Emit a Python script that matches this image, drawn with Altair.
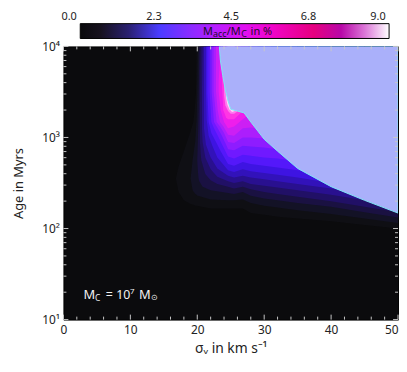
import altair as alt
import pandas as pd

# ---------------- axis / tick data ----------------
SIGMA_DOMAIN = [0, 50]
AGE_DOMAIN = [10, 10000]
X_MAJOR = [0, 10, 20, 30, 40, 50]
X_MINOR = [2, 4, 6, 8, 12, 14, 16, 18, 22, 24, 26, 28, 32, 34, 36, 38, 42, 44, 46, 48]
Y_MAJOR = [10, 100, 1000, 10000]
Y_MAJOR_LABELS = ["10¹", "10²", "10³", "10⁴"]
Y_MINOR = [20, 30, 40, 50, 60, 70, 80, 90,
           200, 300, 400, 500, 600, 700, 800, 900,
           2000, 3000, 4000, 5000, 6000, 7000, 8000, 9000]

# ---------------- colour bar ----------------
CBAR_RANGE = [0, 9]
CBAR_AXIS_DOMAIN = [-0.49, 9.26]
CBAR_TICKS = [0, 2.25, 4.5, 6.75, 9]
CBAR_STOPS = [0, 0.6, 1.4, 2.3, 3.2, 4.0, 4.8, 5.6, 6.8, 7.6, 8.3, 9.0]
CBAR_COLORS = ["#0a0a0c", "#17121f", "#2a2070", "#4a3cff", "#8a2cff", "#bb1cff",
               "#e010f0", "#f004c8", "#e60080", "#b808a8", "#dc78d8", "#ffffff"]

# ---------------- filled contour levels (Macc/Mc in %) ----------------
LEVELS = [0.1, 0.35, 0.7, 1.1, 1.6, 2.1, 2.6, 3.1, 3.6, 4.1, 4.6, 5.1, 5.7, 6.4, 7.2, 8.2]
LEVEL_COLORS = ["#0f0f14", "#131226", "#1a1142", "#211066", "#29108f", "#3212ba",
                "#3e14e2", "#5418fa", "#7019ff", "#8e1cff", "#ac1efc", "#cc1ff4",
                "#ee1eec", "#ff36e4", "#ff7aee", "#ffd4fb"]

# each contour: sigma (km/s), lower and upper log10(age/Myr) of the region >= level
c00_sigma = [16.8, 17.2, 18.0, 19.0, 19.4, 19.6, 19.8, 19.9, 22.0, 24.6, 25.5, 26.8, 28.0, 30.0, 32.0, 35.0, 40.0, 45.0, 50.0]
c00_lo = [2.55, 2.40, 2.31, 2.27, 2.26, 2.255, 2.25, 2.25, 2.22, 2.22, 2.22, 2.22, 2.17, 2.15, 2.13, 2.11, 2.08, 2.04, 2.00]
c00_hi = [2.55, 2.68, 2.85, 3.07, 3.17, 3.30, 3.50, 4.0, 4.0, 4.0, 4.0, 4.0, 4.0, 4.0, 4.0, 4.0, 4.0, 4.0, 4.0]

c01_sigma = [19.0, 19.3, 19.7, 19.9, 20.0, 20.1, 22.0, 24.6, 25.5, 26.8, 28.0, 30.0, 32.0, 35.0, 40.0, 45.0, 50.0]
c01_lo = [2.55, 2.42, 2.38, 2.37, 2.36, 2.36, 2.32, 2.31, 2.31, 2.32, 2.28, 2.25, 2.23, 2.20, 2.16, 2.11, 2.06]
c01_hi = [2.55, 2.75, 2.96, 3.20, 3.50, 4.0, 4.0, 4.0, 4.0, 4.0, 4.0, 4.0, 4.0, 4.0, 4.0, 4.0, 4.0]

c02_sigma = [20.0, 20.1, 20.2, 20.3, 20.8, 22.0, 24.6, 25.5, 26.8, 28.0, 30.0, 32.0, 35.0, 40.0, 45.0, 50.0]
c02_lo = [2.75, 2.62, 2.55, 2.52, 2.46, 2.42, 2.39, 2.38, 2.40, 2.36, 2.33, 2.31, 2.28, 2.24, 2.18, 2.12]
c02_hi = [2.75, 3.00, 3.30, 4.0, 4.0, 4.0, 4.0, 4.0, 4.0, 4.0, 4.0, 4.0, 4.0, 4.0, 4.0, 4.0]

c03_sigma = [20.4, 20.5, 20.6, 21.2, 22.0, 23.0, 24.6, 25.5, 26.8, 28.0, 30.0, 32.0, 35.0, 40.0, 45.0, 50.0]
c03_lo = [2.95, 2.83, 2.75, 2.60, 2.53, 2.49, 2.46, 2.44, 2.46, 2.43, 2.40, 2.38, 2.35, 2.30, 2.24, 2.18]
c03_hi = [3.30, 4.0, 4.0, 4.0, 4.0, 4.0, 4.0, 4.0, 4.0, 4.0, 4.0, 4.0, 4.0, 4.0, 4.0, 4.0]

c04_sigma = [20.7, 20.8, 21.2, 22.0, 23.0, 24.6, 25.5, 26.8, 28.0, 30.0, 32.0, 35.0, 40.0, 45.0, 50.0]
c04_lo = [3.10, 2.95, 2.78, 2.65, 2.57, 2.52, 2.50, 2.52, 2.49, 2.47, 2.45, 2.42, 2.37, 2.31, 2.25]
c04_hi = [3.50, 4.0, 4.0, 4.0, 4.0, 4.0, 4.0, 4.0, 4.0, 4.0, 4.0, 4.0, 4.0, 4.0, 4.0]

c05_sigma = [21.0, 21.3, 22.0, 23.0, 24.6, 25.5, 26.8, 28.0, 30.0, 32.0, 35.0, 40.0, 45.0]
c05_lo = [3.10, 2.92, 2.78, 2.66, 2.58, 2.56, 2.58, 2.56, 2.54, 2.52, 2.49, 2.44, 2.38]
c05_hi = [4.0, 4.0, 4.0, 4.0, 4.0, 4.0, 4.0, 4.0, 4.0, 4.0, 4.0, 4.0, 4.0]

c06_sigma = [21.3, 21.4, 21.7, 22.3, 23.0, 24.6, 25.5, 26.8, 28.0, 30.0, 32.0, 35.0, 40.0]
c06_lo = [3.50, 3.20, 3.02, 2.90, 2.78, 2.64, 2.62, 2.65, 2.63, 2.61, 2.59, 2.56, 2.50]
c06_hi = [4.0, 4.0, 4.0, 4.0, 4.0, 4.0, 4.0, 4.0, 4.0, 4.0, 4.0, 4.0, 4.0]

c07_sigma = [21.5, 21.7, 22.1, 22.8, 23.5, 24.6, 25.5, 26.8, 28.0, 30.0, 32.0, 35.0, 38.0]
c07_lo = [3.50, 3.17, 3.05, 2.95, 2.85, 2.71, 2.69, 2.73, 2.71, 2.69, 2.67, 2.64, 2.61]
c07_hi = [4.0, 4.0, 4.0, 4.0, 4.0, 4.0, 4.0, 4.0, 4.0, 4.0, 4.0, 4.0, 4.0]

c08_sigma = [21.85, 22.1, 22.5, 23.2, 24.0, 24.6, 25.5, 26.8, 28.0, 30.0, 32.0, 35.0]
c08_lo = [3.50, 3.17, 3.10, 3.00, 2.88, 2.79, 2.77, 2.81, 2.80, 2.78, 2.77, 2.74]
c08_hi = [4.0, 4.0, 4.0, 4.0, 4.0, 4.0, 4.0, 4.0, 4.0, 4.0, 4.0, 4.0]

c09_sigma = [22.15, 22.5, 22.9, 23.6, 24.2, 24.6, 25.5, 26.8, 28.0, 30.0, 32.0]
c09_lo = [3.50, 3.17, 3.12, 3.03, 2.94, 2.87, 2.86, 2.91, 2.90, 2.89, 2.87]
c09_hi = [4.0, 4.0, 4.0, 4.0, 4.0, 4.0, 4.0, 4.0, 4.0, 4.0, 4.0]

c10_sigma = [22.45, 22.9, 23.4, 24.0, 24.6, 25.5, 26.8, 28.0, 30.0, 31.0]
c10_lo = [3.50, 3.17, 3.12, 3.05, 2.95, 2.94, 3.00, 3.00, 2.99, 2.95]
c10_hi = [4.0, 4.0, 4.0, 4.0, 4.0, 4.0, 4.0, 4.0, 4.0, 4.0]

c11_sigma = [22.8, 23.05, 23.4, 23.9, 24.6, 25.5, 26.8, 28.0, 29.0]
c11_lo = [3.50, 3.30, 3.17, 3.12, 3.03, 3.02, 3.10, 3.11, 3.10]
c11_hi = [4.0, 4.0, 4.0, 4.0, 4.0, 4.0, 4.0, 4.0, 4.0]

c12_sigma = [23.2, 23.5, 24.0, 24.6, 25.5, 26.8, 27.6]
c12_lo = [3.50, 3.30, 3.17, 3.10, 3.12, 3.20, 3.24]
c12_hi = [3.62, 4.0, 4.0, 4.0, 4.0, 4.0, 4.0]

c13_sigma = [23.7, 23.9, 24.3, 24.6, 25.5, 26.5]
c13_lo = [3.55, 3.30, 3.22, 3.20, 3.20, 3.27]
c13_hi = [3.65, 4.0, 4.0, 4.0, 4.0, 4.0]

c14_sigma = [24.0, 24.2, 24.6, 25.0, 25.5, 26.0]
c14_lo = [3.47, 3.35, 3.29, 3.26, 3.26, 3.285]
c14_hi = [3.52, 4.0, 4.0, 4.0, 4.0, 4.0]

c15_sigma = [24.3, 24.5, 24.8, 25.2, 25.6]
c15_lo = [3.44, 3.36, 3.31, 3.28, 3.29]
c15_hi = [3.48, 4.0, 4.0, 4.0, 4.0]

# region without a value (light lavender), lower edge in log10(age)
lav_sigma = [23.3, 23.45, 23.8, 24.2, 24.6, 25.0, 26.0, 27.0, 28.0, 30.0, 32.0, 35.0, 40.0, 45.0, 50.0]
lav_lo = [4.0, 3.85, 3.68, 3.52, 3.40, 3.31, 3.29, 3.27, 3.17, 2.98, 2.85, 2.66, 2.46, 2.31, 2.17]
lav_hi = [4.0] * len(lav_sigma)

CONTOURS = [
    (c00_sigma, c00_lo, c00_hi), (c01_sigma, c01_lo, c01_hi), (c02_sigma, c02_lo, c02_hi),
    (c03_sigma, c03_lo, c03_hi), (c04_sigma, c04_lo, c04_hi), (c05_sigma, c05_lo, c05_hi),
    (c06_sigma, c06_lo, c06_hi), (c07_sigma, c07_lo, c07_hi), (c08_sigma, c08_lo, c08_hi),
    (c09_sigma, c09_lo, c09_hi), (c10_sigma, c10_lo, c10_hi), (c11_sigma, c11_lo, c11_hi),
    (c12_sigma, c12_lo, c12_hi), (c13_sigma, c13_lo, c13_hi), (c14_sigma, c14_lo, c14_hi),
    (c15_sigma, c15_lo, c15_hi),
]

# annotation anchors: (sigma, log10 age) in the main panel, (value, y) in the colour bar
ANNOT_POS = (3.0, 1.228)
CBAR_TITLE_POS = (3.58, 0.22)

# ---------------- styling ----------------
W, H = 338, 276
CB_H = 15
FONT = "Noto Sans"
BG = "#0b0b0d"
LAV = "#aab0fa"
CYAN = "#7fe6f4"
TICK = "#c8c8c8"
TXT = "#222222"


def band_df(s, lo, hi):
    return pd.DataFrame({"sigma": s,
                         "age": [10 ** v for v in lo],
                         "age_hi": [10 ** v for v in hi]})


xs = alt.Scale(domain=SIGMA_DOMAIN, nice=False, zero=False)
ys = alt.Scale(type="log", domain=AGE_DOMAIN, nice=False)

label_expr = " : ".join(f"datum.value == {v} ? '{t}'" for v, t in zip(Y_MAJOR, Y_MAJOR_LABELS)) + " : ''"

xaxis = alt.Axis(values=X_MAJOR, ticks=False, domain=False, grid=False,
                 labelFontSize=12, labelColor=TXT, labelPadding=5,
                 labelAlign={"condition": {"test": "datum.value == 50", "value": "right"}, "value": "center"},
                 title="σᵥ in km s⁻¹", titleFontSize=14, titleFontWeight="normal",
                 titleColor=TXT, titlePadding=6)
yaxis = alt.Axis(values=Y_MAJOR, labelExpr=label_expr, ticks=False, domain=False, grid=False,
                 labelFontSize=12, labelColor=TXT, labelPadding=4,
                 title="Age in Myrs", titleFontSize=13, titleFontWeight="normal",
                 titleColor=TXT, titlePadding=16)

X = alt.X("sigma:Q", scale=xs, axis=xaxis)
Y = alt.Y("age:Q", scale=ys, axis=yaxis)

layers = []
for (s, lo, hi), col in zip(CONTOURS, LEVEL_COLORS):
    layers.append(
        alt.Chart(band_df(s, lo, hi)).mark_area(color=col, orient="vertical", interpolate="linear",
                                                 clip=True, strokeWidth=0)
        .encode(x=X, y=Y, y2="age_hi:Q")
    )

layers.append(
    alt.Chart(band_df(lav_sigma, lav_lo, lav_hi)).mark_area(
        color=LAV, orient="vertical", interpolate="linear", clip=True,
        stroke=CYAN, strokeWidth=1)
    .encode(x=X, y=Y, y2="age_hi:Q")
)

# inward ticks on all four sides
xmaj = pd.DataFrame({"sigma": X_MAJOR})
xmin = pd.DataFrame({"sigma": X_MINOR})
ymaj = pd.DataFrame({"age": Y_MAJOR})
ymin = pd.DataFrame({"age": Y_MINOR})
for df, ln in ((xmaj, 5), (xmin, 3)):
    layers.append(alt.Chart(df).mark_rule(color=TICK, strokeWidth=1)
                  .encode(x=X, y=alt.value(H), y2=alt.value(H - ln)))
    layers.append(alt.Chart(df).mark_rule(color=TICK, strokeWidth=1)
                  .encode(x=X, y=alt.value(0), y2=alt.value(ln)))
for df, ln in ((ymaj, 5), (ymin, 3)):
    layers.append(alt.Chart(df).mark_rule(color=TICK, strokeWidth=1)
                  .encode(y=Y, x=alt.value(0), x2=alt.value(ln)))
    layers.append(alt.Chart(df).mark_rule(color=TICK, strokeWidth=1)
                  .encode(y=Y, x=alt.value(W), x2=alt.value(W - ln)))


def text_segments(df, xenc, yenc, segs, color):
    out = []
    for txt, size, dx, dy in segs:
        out.append(alt.Chart(df).mark_text(text=txt, fontSize=size, dx=dx, dy=dy, align="left",
                                           baseline="alphabetic", color=color, font=FONT)
                   .encode(x=xenc, y=yenc))
    return out


# "M_C = 10^7 M_sun"
annot_df = pd.DataFrame({"sigma": [ANNOT_POS[0]], "age": [10 ** ANNOT_POS[1]]})
layers += text_segments(annot_df, X, Y, [
    ("M", 13, 0, 0), ("C", 8.5, 11.5, 2), ("=", 12.5, 22.5, 0), ("10", 12.5, 33, 0),
    ("7", 8, 47, -5), ("M", 13, 56, 0), ("⊙", 8, 68.5, 1)], "#f2f2f2")

main = alt.layer(*layers).properties(
    width=W, height=H, view=alt.ViewBackground(fill=BG, stroke="black", strokeWidth=1))

# ---------------- colour bar panel ----------------
cx = alt.Scale(domain=CBAR_AXIS_DOMAIN, nice=False, zero=False)
cy = alt.Scale(domain=[0, 1], nice=False, zero=False)
cbar_axis = alt.Axis(orient="top", values=CBAR_TICKS, format=".1f", ticks=False, domain=False,
                     grid=False, labelFontSize=11, labelPadding=2, labelColor=TXT, title=None,
                     labelOffset={"expr": "-4"},
                     labelAlign={"condition": {"test": "datum.value == 0 || datum.value == 9",
                                               "value": "right"}, "value": "center"})
CX = alt.X("v:Q", scale=cx, axis=cbar_axis)
CY = alt.Y("y:Q", scale=cy, axis=None)

grad = alt.LinearGradient(
    gradient="linear", x1=0, x2=1, y1=0, y2=0,
    stops=[alt.GradientStop(offset=(s - CBAR_RANGE[0]) / (CBAR_RANGE[1] - CBAR_RANGE[0]), color=c)
           for s, c in zip(CBAR_STOPS, CBAR_COLORS)])
cb_df = pd.DataFrame({"v": [CBAR_RANGE[0]], "v2": [CBAR_RANGE[1]], "y": [0], "y2": [1]})
cb_layers = [alt.Chart(cb_df).mark_rect(color=grad, stroke="black", strokeWidth=1)
             .encode(x=CX, x2="v2:Q", y=CY, y2="y2:Q")]
title_df = pd.DataFrame({"v": [CBAR_TITLE_POS[0]], "y": [CBAR_TITLE_POS[1]]})
cb_layers += text_segments(title_df, CX, CY, [
    ("M", 11, 0, 0), ("acc", 9, 10, 2), ("/", 11, 24, 0), ("M", 11, 28, 0),
    ("C", 9, 38.5, 2), ("in %", 11, 48, 0)], "#1a0a2a")

cbar = alt.layer(*cb_layers).properties(
    width=W, height=CB_H, view=alt.ViewBackground(fill="transparent", stroke="transparent"))

chart = (
    alt.vconcat(cbar, main, spacing=8, bounds="flush")
    .properties(padding={"left": 4, "top": 0, "right": 0, "bottom": 0}, background="white")
    .configure(font=FONT)
)

chart.save("out.html", embed_options={"renderer": "svg", "actions": False})
